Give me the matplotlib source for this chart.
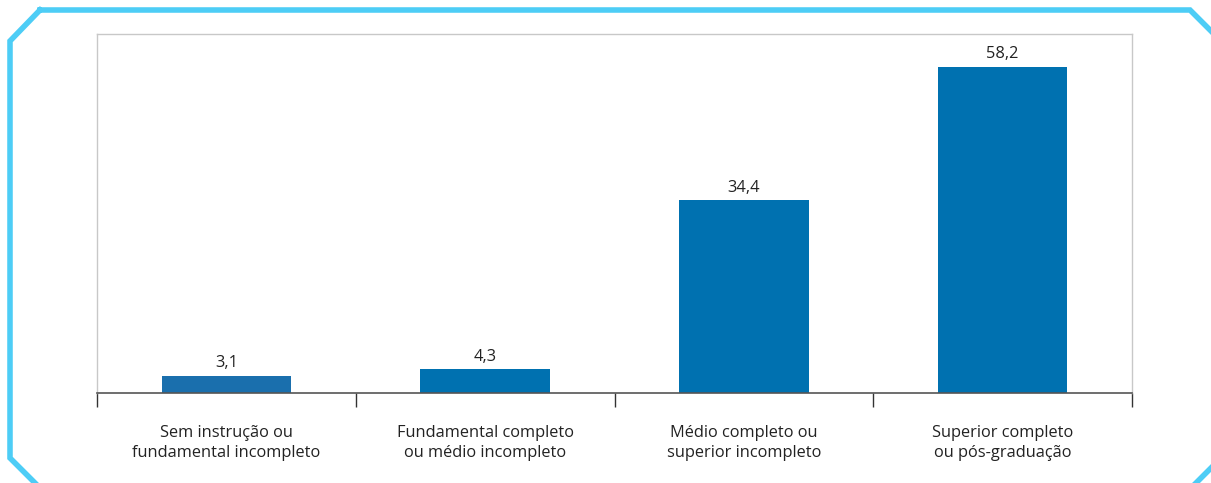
import matplotlib
matplotlib.use("Agg")
import matplotlib.pyplot as plt
import numpy as np

categories = [
    "Sem instrução ou\nfundamental incompleto",
    "Fundamental completo\nou médio incompleto",
    "Médio completo ou\nsuperior incompleto",
    "Superior completo\nou pós-graduação",
]
values = [3.1, 4.3, 34.4, 58.2]
value_labels = ["3,1", "4,3", "34,4", "58,2"]
bar_colors = ["#1a6fad", "#0071b0", "#0071b0", "#0071b0"]

W, H = 1211, 483
plt.rcParams["font.family"] = ["Open Sans", "DejaVu Sans"]

fig = plt.figure(figsize=(W / 100, H / 100), dpi=100)
ax = fig.add_axes([97 / W, 1 - 393 / H, (1132 - 97) / W, (393 - 34) / H])

x = np.arange(len(values))
ax.bar(x, values, width=0.5, color=bar_colors, zorder=2)
for xi, v, lab in zip(x, values, value_labels):
    ax.annotate(lab, (xi, v), xytext=(0, 3), textcoords="offset points",
                ha="center", va="bottom", fontsize=11.8, color="#222222")

ax.set_xlim(-0.5, len(values) - 0.5)
ax.set_ylim(0, 64)
ax.set_yticks([])

# ticks at category boundaries, labels centered on bars
ax.set_xticks(np.arange(len(values) + 1) - 0.5)
ax.set_xticklabels([])
ax.set_xticks(x, minor=True)
ax.set_xticklabels(categories, minor=True, fontsize=11.8, color="#222222",
                   linespacing=1.3)
ax.tick_params(axis="x", which="major", length=10, width=1, color="#333333",
               direction="out")
ax.tick_params(axis="x", which="minor", length=0, pad=23)

for side in ["left", "top", "right"]:
    ax.spines[side].set_color("#c8c8c8")
    ax.spines[side].set_linewidth(1)
ax.spines["bottom"].set_color("#555555")
ax.spines["bottom"].set_linewidth(1.2)

# light blue frame with cut corners
frame = fig.add_axes([0, 0, 1, 1], zorder=-1)
frame.set_xlim(0, W)
frame.set_ylim(H, 0)
frame.axis("off")
fx = [40, 1190, 1221, 1221, 1190, 41, 10, 10, 40]
fy = [10, 10, 41, 458, 489, 489, 458, 41, 10]
frame.plot(fx, fy, color="#4dcdf6", linewidth=4, clip_on=False,
           solid_joinstyle="miter")

fig.savefig("out.png", dpi=100)
